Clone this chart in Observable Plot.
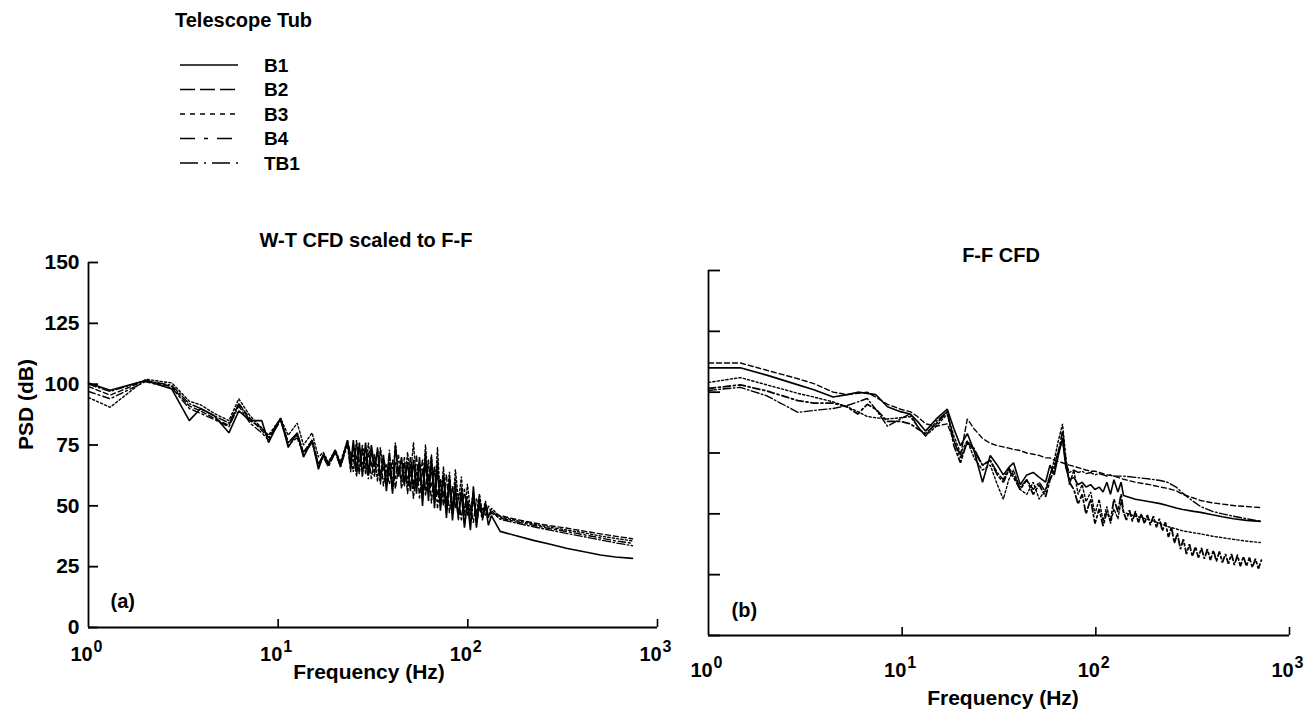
<!DOCTYPE html>
<html><head><meta charset="utf-8">
<script src="https://cdn.jsdelivr.net/npm/d3@7"></script>
<script src="https://cdn.jsdelivr.net/npm/@observablehq/plot@0.6"></script>
<style>
body{margin:0;background:#fff;}
#wrap{position:relative;width:1316px;height:713px;overflow:hidden;background:#fff;font-family:"Liberation Sans",Arial,Helvetica,sans-serif;font-weight:bold;}
#legend{position:absolute;left:0;top:0;}
#left{position:absolute;left:0;top:200px;}
#right{position:absolute;left:620px;top:200px;}
</style></head><body>
<div id="wrap"><svg id="legend" width="420" height="190"></svg><div id="left"></div><div id="right"></div></div>
<script>
// ---------- data ----------
const seriesNames = ["B1", "B2", "B3", "B4", "TB1"];
const yTicks = [0, 25, 50, 75, 100, 125, 150];
const xTicks = [1, 10, 100, 1000];

// Panel (a): W-T CFD scaled to F-F
const leftFreq = [1, 1.3, 2, 2.75, 3.4, 3.9, 4.6, 5.5, 6.2, 7.1, 8.2, 8.9, 10.3, 11.3, 12.6, 13.6, 15.1, 16.3, 17.3, 18.4, 20, 21.3, 23.2,
  24.1, 24.9, 25.9, 26.8, 27.8, 28.9, 29.9, 31.0, 32.2, 33.4, 34.6, 35.9, 37.2, 38.6, 40.1, 41.5, 43.1, 44.7, 46.3, 48.1, 49.8, 51.7, 53.6, 55.6, 57.7, 59.8, 62.0, 64.3, 66.7, 69.2, 71.7, 74.4, 77.1, 80.0, 83.0, 86.0, 89.2, 92.5, 96.0, 99.5, 103.2, 107.0, 111.0, 115.1, 119.4, 123.8, 128.4, 133.2,
  148, 178, 222, 272, 335, 417, 500, 600, 738];
const leftB1 = [100.5, 97.5, 101.5, 98, 85, 90, 87, 80, 89, 85, 85, 76, 86, 74, 80, 70, 77, 65, 71, 67, 73, 66, 77,
  66, 77, 64, 76, 62, 76, 63, 75, 66, 73, 61, 71, 56, 68, 55, 75, 62, 70, 59, 68, 56, 69, 55, 70, 50, 72, 52, 70, 49, 66, 48, 63, 45, 61, 44, 57, 46, 55, 41, 52, 40, 58, 41, 52, 45, 50, 42, 46,
  39.5, 37.8, 35.8, 34.2, 32.5, 31, 29.8, 29, 28.4];
const leftB2 = [99, 95.5, 101.5, 99, 91, 89, 86, 83, 92, 86, 81, 78, 85, 76, 79, 72, 77, 67, 71, 67, 72, 67, 76,
  72, 68, 75, 65, 73, 66, 72, 61, 70, 66, 72, 58, 67, 62, 69, 57, 66, 60, 70, 55, 66, 58, 71, 53, 65, 57, 69, 51, 66, 54, 60, 50, 63, 47, 58, 49, 54, 44, 57, 46, 50, 43, 53, 48, 49, 46, 50, 47,
  46, 44.5, 43, 41.8, 40.8, 39.5, 38.5, 37.5, 36.5];
const leftB3 = [94.5, 90.5, 102, 100.5, 93, 91.5, 88, 85, 94, 87, 82, 79, 86, 79, 84, 75, 80, 70, 72, 68, 73, 68, 77,
  70, 64, 77, 68, 73, 63, 76, 66, 71, 60, 74, 65, 62, 70, 58, 76, 63, 66, 58, 72, 62, 76, 59, 67, 56, 75, 60, 71, 53, 74, 52, 66, 50, 64, 48, 65, 52, 62, 46, 59, 48, 56, 44, 55, 47, 52, 45, 49,
  45.5, 44, 42.5, 41.2, 40, 38.8, 37.6, 36.6, 35.6];
const leftB4 = [97, 94, 101, 98.5, 90, 88, 85.5, 82.5, 91, 84, 80, 77, 85, 75, 78, 71, 76, 66, 70, 66, 72, 66, 75,
  64, 74, 70, 63, 75, 68, 61, 73, 64, 67, 59, 70, 64, 59, 66, 61, 71, 57, 64, 61, 67, 53, 64, 60, 69, 54, 63, 58, 66, 49, 61, 55, 47, 62, 50, 53, 45, 58, 43, 50, 46, 55, 42, 50, 44, 51, 46, 47,
  45, 43.5, 42, 40.6, 39.4, 38, 36.8, 35.6, 34.6];
const leftTB1 = [100, 97, 101.5, 99.5, 92, 90, 87, 84, 92, 85, 82, 78, 86, 76, 80, 72, 77, 67, 71, 67, 72, 67, 76,
  69, 71, 62, 74, 67, 70, 65, 68, 62, 74, 63, 66, 60, 73, 56, 68, 65, 61, 67, 58, 70, 57, 64, 68, 52, 67, 58, 64, 56, 69, 50, 62, 52, 57, 47, 61, 44, 56, 49, 54, 42, 52, 47, 54, 45, 50, 46, 48,
  44.5, 43, 41.4, 40, 38.6, 37.2, 36, 34.8, 33.6];

// Panel (b): F-F CFD
const rightFreq = [1, 1.46, 2, 2.9, 3.5, 4.4, 5.2, 5.9, 6.6, 7.3, 8.4, 9.8, 11, 12, 13.2, 15, 17.1, 18.5, 20, 21.7,
  23.5, 26, 28.5, 31, 33.3, 35.5, 37.6, 40.7, 44, 47.5, 51, 55, 58, 61, 64, 67.3, 70, 73, 77, 81,
  85, 89, 94, 99, 104, 109, 114, 119, 124, 130, 135, 139,
  160, 190, 215, 234, 260, 281, 320, 347, 400, 450, 514, 600, 706];
const rightB1 = [110, 110, 107, 103, 101, 98, 99, 100, 99.5, 99, 94, 92, 91, 88, 84, 89, 93, 85, 78, 83,
  76, 63, 74, 70, 66, 69, 71, 62, 66, 67, 65, 63, 70, 66, 74, 81, 69, 64, 65, 62,
  63, 61, 62, 60, 61, 59, 63, 58, 64, 59, 63, 57.5,
  56, 55, 54.2, 53.4, 52.4, 51.8, 51, 50.6, 49.6, 48.8, 48, 47.3, 46.9];
const rightB2 = [112, 112, 109, 105.5, 103.5, 100, 99, 99.5, 100, 98, 95, 93, 92, 90, 87, 86, 87, 80, 74, 89,
  85, 81, 79, 78, 77.5, 77, 76.5, 76, 75, 74.5, 74, 73, 73, 72, 71.5, 71, 70.5, 70, 69.5, 69,
  68.5, 68, 67.5, 67.5, 67, 66.5, 66, 65.8, 65.5, 65, 64.5, 64.2,
  63, 62, 61, 60.5, 59.5, 58, 56.5, 55.5, 54.5, 54, 53.4, 53, 52.6];
const rightB3 = [104, 106, 103, 99.5, 98, 96, 94, 92, 90, 89.5, 89, 89.5, 90, 86, 82, 86, 91, 82, 75, 80,
  73, 68, 70, 62, 56, 64, 68, 60, 58, 63, 56, 60, 66, 72, 80, 87, 73, 62, 68, 58,
  62, 55, 59, 50, 56, 47, 53, 46, 52, 48, 55, 50.6,
  49, 47.6, 46, 44.8, 43.8, 43, 42.2, 41.8, 40.8, 40.2, 39.5, 38.8, 38.2];
const rightB4 = [101.5, 103, 100.5, 96.5, 95.5, 95.5, 94, 91, 95, 93, 88, 88, 87, 85, 83, 87, 92, 78, 71, 80,
  76, 70, 72, 66, 63, 68, 65, 60, 64, 58, 62, 57, 64, 68, 75, 84, 72, 63, 60, 54,
  58, 50, 56, 46, 52, 45, 51, 47, 56, 51, 58, 50.6];
const rightB4TailFreq = [143.9, 149.1, 154.5, 160.1, 165.9, 171.9, 178.2, 184.6, 191.3, 198.3, 205.5, 212.9, 220.7, 228.7, 237, 245.6,
  254.5, 263.8, 273.3, 283.3, 293.6, 304.2, 315.3, 326.7, 338.6, 350.9, 363.6, 376.9, 390.5, 404.7, 419.4, 434.6,
  450.4, 466.8, 483.7, 501.3, 519.5, 538.4, 557.8, 578.1, 599.1, 620.9, 643.4, 666.8, 691, 716.1];
const rightB4Tail = [47.5, 51.5, 47, 51, 46.5, 50, 46, 49.5, 45.5, 49, 44.5, 48, 43, 46.5, 40.5, 44.5,
  38, 42, 35.5, 39.5, 33.5, 37.5, 32.5, 36.5, 32, 36, 31.5, 35.5, 31, 35, 30.5, 34.5,
  30, 33.5, 29.5, 33.5, 29, 33, 28.5, 32.5, 28.5, 32, 28, 31.5, 27.5, 31];
const rightTB1 = [100.7, 102, 98.5, 91.7, 92.5, 93.3, 94.5, 96, 97.4, 93, 86, 89, 91.2, 86, 82, 88, 92, 80, 73, 79,
  77, 70, 72, 67, 64, 69, 66, 61, 64, 60, 63, 59, 66, 70, 76, 80, 71, 67, 68, 67,
  67.5, 66.5, 67, 66, 66.5, 66, 65.5, 66, 65.5, 65.5, 65.5, 65.5,
  65, 64.3, 63.7, 63, 61, 58.5, 55, 53, 51, 50, 49, 48, 47];

// ---------- build tables ----------
const rows = (fr, vals) => vals.map((v, i) => ({f: fr[i], v}));
const leftSeries = [
  {name: "B1", rows: rows(leftFreq, leftB1)},
  {name: "B2", rows: rows(leftFreq, leftB2)},
  {name: "B3", rows: rows(leftFreq, leftB3)},
  {name: "B4", rows: rows(leftFreq, leftB4)},
  {name: "TB1", rows: rows(leftFreq, leftTB1)}
];
const rightSeries = [
  {name: "B2", rows: rows(rightFreq, rightB2)},
  {name: "TB1", rows: rows(rightFreq, rightTB1)},
  {name: "B1", rows: rows(rightFreq, rightB1)},
  {name: "B3", rows: rows(rightFreq, rightB3)},
  {name: "B4", rows: rows(rightFreq, rightB4).concat(rows(rightB4TailFreq, rightB4Tail)), width: 1.8}
];

// ---------- styles ----------
const FONT = '"Liberation Sans", Arial, Helvetica, sans-serif';
const plotDash = {B1: undefined, B2: "5,3", B3: "2.2,2.2", B4: "7,3,2,3", TB1: "8,2.5,1.5,2.5"};
const legendDash = {B1: null, B2: "15,5", B3: "5,5", B4: "15,9,4,9", TB1: "18,6,2,6"};

function panel(o) {
  const fw = o.width - o.ml - o.mr, fh = o.height - o.mt - o.mb;
  const marks = [];
  for (const s of o.series) {
    marks.push(Plot.line(s.rows, {x: "f", y: "v", stroke: "#000",
      strokeWidth: s.width || (s.name === "B1" ? 1.6 : 1.4),
      strokeDasharray: plotDash[s.name], strokeLinejoin: "miter"}));
  }
  marks.push(Plot.ruleX([1], {strokeWidth: 1.8}));
  marks.push(Plot.ruleY([0], {strokeWidth: 1.8}));
  marks.push(Plot.tickY(yTicks, {y: d => d, insetRight: fw - o.tickLen, strokeWidth: 1.8}));
  marks.push(Plot.tickX(xTicks.slice(1), {x: d => d, insetTop: fh - 8, strokeWidth: 1.6}));
  if (o.yLabels) {
    marks.push(Plot.text(yTicks, {x: 1, y: d => d, text: d => String(d), textAnchor: "end", dx: -9, fontSize: 21}));
    marks.push(Plot.text(["PSD (dB)"], {text: d => d, frameAnchor: "left", dx: -62, dy: 5, rotate: -90, fontSize: 21}));
  }
  marks.push(Plot.text(xTicks, {x: d => d, y: 0, text: () => "10", dy: o.tickDy, dx: -7, fontSize: 20}));
  marks.push(Plot.text(xTicks, {x: d => d, y: 0, text: d => String(Math.round(Math.log10(d))), dy: o.tickDy - 8, dx: 5, textAnchor: "start", fontSize: 16}));
  marks.push(Plot.text(["Frequency (Hz)"], {text: d => d, frameAnchor: "bottom", dy: o.xLabelDy, dx: o.xLabelDx, fontSize: 21}));
  marks.push(Plot.text([o.title], {text: d => d, frameAnchor: "top", dy: o.titleDy, dx: o.titleDx, fontSize: 20}));
  marks.push(Plot.text([o.letter], {text: d => d, frameAnchor: "bottom-left", dx: o.letterDx, dy: o.letterDy, fontSize: 20}));
  return Plot.plot({
    width: o.width, height: o.height,
    marginLeft: o.ml, marginRight: o.mr, marginTop: o.mt, marginBottom: o.mb,
    x: {type: "log", domain: [1, 1000], axis: null},
    y: {domain: [0, 150], axis: null},
    style: {fontFamily: FONT, fontWeight: "bold", fontSize: "20px", color: "#000", background: "transparent", overflow: "visible"},
    marks
  });
}

document.getElementById("left").appendChild(panel({
  width: 700, height: 480, ml: 88, mr: 43, mt: 62, mb: 53,
  series: leftSeries, yLabels: true, tickLen: 10,
  tickDy: 27, xLabelDy: 51, xLabelDx: -4,
  title: "W-T CFD scaled to F-F", titleDy: -30, titleDx: -7,
  letter: "(a)", letterDx: 22, letterDy: -20
}));
document.getElementById("right").appendChild(panel({
  width: 696, height: 513, ml: 88, mr: 27, mt: 70, mb: 78,
  series: rightSeries, yLabels: false, tickLen: 12,
  tickDy: 35, xLabelDy: 69, xLabelDx: 4,
  title: "F-F CFD", titleDy: -23, titleDx: 2,
  letter: "(b)", letterDx: 23, letterDy: -19
}));

// ---------- legend ----------
const leg = d3.select("#legend").attr("font-family", FONT).attr("font-weight", "bold");
leg.append("text").attr("x", 175).attr("y", 27).attr("font-size", 20).text("Telescope Tub");
seriesNames.forEach((name, i) => {
  const y = 65 + i * 24.5;
  leg.append("line").attr("x1", 180).attr("x2", 238).attr("y1", y).attr("y2", y)
    .attr("stroke", "#000").attr("stroke-width", 1.6).attr("stroke-dasharray", legendDash[name]);
  leg.append("text").attr("x", 264).attr("y", y).attr("dy", "0.36em").attr("font-size", 19).text(name);
});
</script>
</body></html>
